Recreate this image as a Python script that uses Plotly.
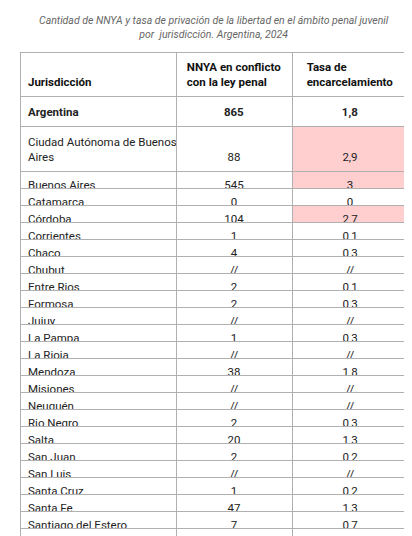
import plotly.graph_objects as go

jurisdicciones = ["Argentina", "Ciudad Autónoma de Buenos<br>Aires", "Buenos Aires", "Catamarca", "Córdoba",
                  "Corrientes", "Chaco", "Chubut", "Entre Rios", "Formosa", "Jujuy", "La Pampa", "La Rioja",
                  "Mendoza", "Misiones", "Neuquén", "Rio Negro", "Salta", "San Juan", "San Luis",
                  "Santa Cruz", "Santa Fe", "Santiago del Estero", "Tucumán", "Tierra del Fuego"]
nnya = ["865", "88", "545", "0", "104", "1", "4", "//", "2", "2", "//", "1", "//", "38", "//", "//",
        "2", "20", "2", "//", "1", "47", "7", "1", "//"]
tasa = ["1,8", "2,9", "3", "0", "2,7", "0,1", "0,3", "//", "0,1", "0,3", "//", "0,3", "//", "1,8", "//", "//",
        "0,3", "1,3", "0,2", "//", "0,2", "1,3", "0,7", "0,1", "//"]
destacados = ["Ciudad Autónoma de Buenos<br>Aires", "Buenos Aires", "Córdoba"]
encabezados = ["\u00a0<br>Jurisdicción", "NNYA en conflicto<br>con la ley penal", "Tasa de<br>encarcelamiento"]

def fmt(i, v):
    if i == 0:
        return "<b>" + v + "</b>"
    if "<br>" in jurisdicciones[i] and "<br>" not in v:
        return "\u00a0<br>" + v
    return v

col1 = [fmt(i, v) for i, v in enumerate(jurisdicciones)]
col2 = [fmt(i, v) for i, v in enumerate(nnya)]
col3 = [fmt(i, v) for i, v in enumerate(tasa)]
fill3 = ["#ffcfcf" if j in destacados else "white" for j in jurisdicciones]

fig = go.Figure(go.Table(
    columnwidth=[156, 116, 116],
    header=dict(values=["<b>" + h + "</b>" for h in encabezados],
                align=["left", "center", "center"], height=17,
                fill_color="white", line_color="#b0b0b0",
                font=dict(family="Roboto", size=11.5, color="#111")),
    cells=dict(values=[col1, col2, col3],
               align=["left", "center", "center"], height=17,
               fill_color=[["white"] * len(col1), ["white"] * len(col1), fill3],
               line_color="#b0b0b0",
               font=dict(family="Roboto", size=11.5, color="#222")),
    domain=dict(x=[12 / 412, 400 / 412], y=[0, 1 - 44 / 536]),
))
fig.add_annotation(text="<i>Cantidad de NNYA y tasa de privación de la libertad en el ámbito penal juvenil<br>por  jurisdicción. Argentina, 2024</i>",
                   x=0.5, y=1 - 4 / 536, xref="paper", yref="paper", xanchor="center", yanchor="top",
                   showarrow=False, font=dict(family="Roboto", size=10.5, color="#666"))
fig.update_layout(width=412, height=536, margin=dict(l=0, r=0, t=0, b=0),
                  paper_bgcolor="white", plot_bgcolor="white")
fig.write_html("out.html")
